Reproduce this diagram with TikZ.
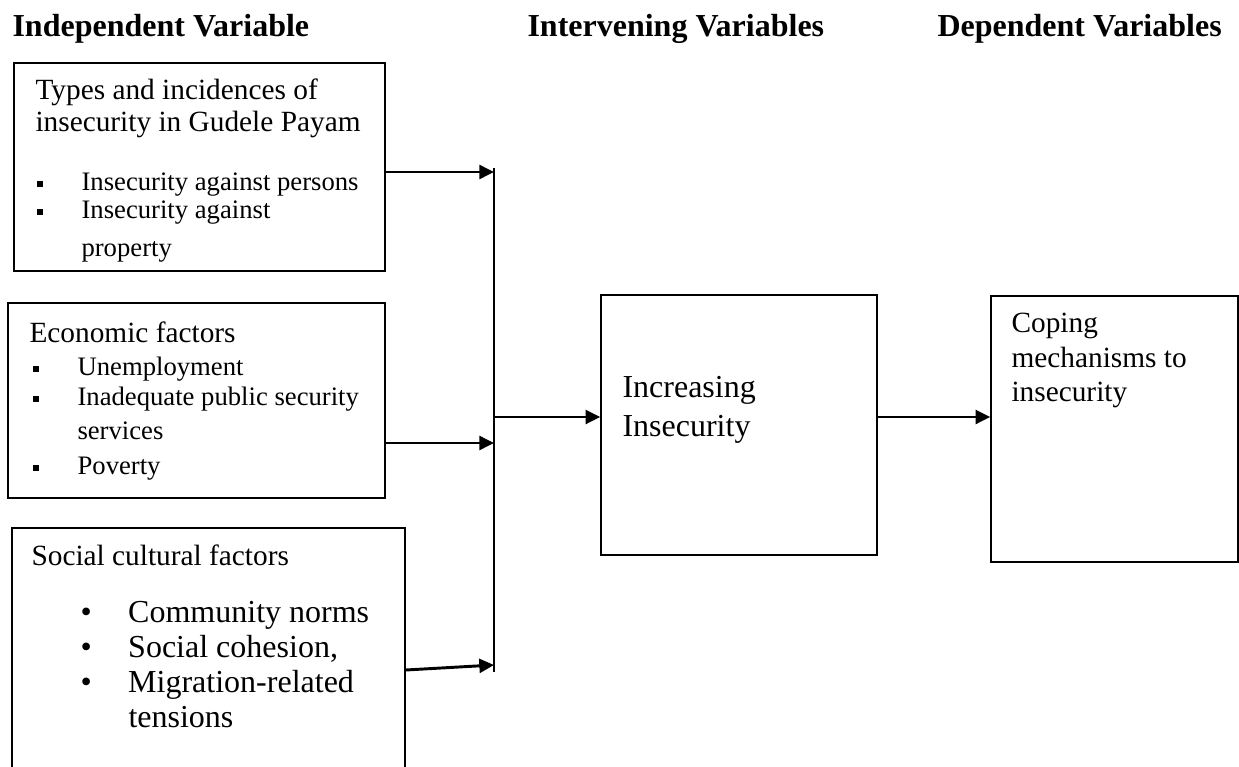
\documentclass[tikz,border=0pt]{standalone}
\usepackage{fontspec}
\setmainfont{Liberation Serif}
\usetikzlibrary{arrows.meta,fit}
\tikzstyle{box}=[draw,rectangle,inner sep=0pt,line width=0.6pt]
\tikzstyle{txt}=[anchor=base west,inner sep=0pt]
\tikzstyle{head}=[txt,font=\fontsize{12}{14}\selectfont\bfseries]
\tikzstyle{body}=[txt,font=\fontsize{11}{13}\selectfont]
\tikzstyle{item}=[txt,font=\fontsize{10}{12}\selectfont]
\tikzstyle{big}=[txt,font=\fontsize{12}{14}\selectfont]
\tikzstyle{arr}=[-{Triangle[length=5.5pt,width=5.2pt]},line width=1.1pt]
\newcommand{\sqbul}{\makebox[16.9pt][l]{\rule[1.1pt]{2.4pt}{2.4pt}}}
\newcommand{\dotbul}{\makebox[17.9pt][l]{\textbullet}}
\newcommand{\newBox}[3]{\node[box,fit={#2 #3}](#1){};}

\begin{document}
\begin{tikzpicture}[x=0.375pt,y=-0.375pt]
  \useasboundingbox (0,0) rectangle (1239,767);
  % column titles
  \node[head] (hind) at (12,36) {Independent Variable};
  \node[head] (hint) at (527,36) {Intervening Variables};
  \node[head] (hdep) at (937,36) {Dependent Variables};
  \newBox{types}{(14,63)}{(385,271)}
  \newBox{econ}{(8,303)}{(385,498)}
  \newBox{social}{(12,528)}{(405,800)}
  \newBox{incr}{(601,295)}{(877,555)}
  \newBox{coping}{(991,296)}{(1238,562)}
  \node[body] (ty1) at (35,99) {Types and incidences of};
  \node[body] (ty2) at (35,131) {insecurity in Gudele Payam};
  \node[item] (ty3) at (36,190) {\sqbul Insecurity against persons};
  \node[item] (ty4) at (36,218) {\sqbul Insecurity against};
  \node[item] (ty5) at (81,256) {property};
  \node[body] (ec1) at (29,342) {Economic factors};
  \node[item] (ec2) at (32,375) {\sqbul Unemployment};
  \node[item] (ec3) at (32,405) {\sqbul Inadequate public security};
  \node[item] (ec4) at (77,439) {services};
  \node[item] (ec5) at (32,474) {\sqbul Poverty};
  \node[body] (so1) at (31,565) {Social cultural factors};
  \node[big] (so2) at (80,622) {\dotbul Community norms};
  \node[big] (so3) at (80,657) {\dotbul Social cohesion,};
  \node[big] (so4) at (80,692) {\dotbul Migration-related};
  \node[big] (so5) at (128,727) {tensions};
  \node[big] (in1) at (622,397) {Increasing};
  \node[big] (in2) at (622,436) {Insecurity};
  \node[body] (co1) at (1011,332) {Coping};
  \node[body] (co2) at (1011,367) {mechanisms to};
  \node[body] (co3) at (1011,401) {insecurity};
  % collecting line
  \coordinate (bustop) at (494,168);
  \coordinate (busbot) at (494,672);
  \coordinate (j1) at (494,172);
  \coordinate (j2) at (494,443);
  \coordinate (j3) at (494,665);
  \coordinate (jout) at (494,417);
  \draw[line width=0.8pt] (bustop) -- (busbot);
  \draw[arr] (types.east |- j1) -- (j1);
  \draw[arr] (econ.east |- j2) -- (j2);
  \draw[arr] (social.east |- 0,670) -- (j3);
  \draw[arr] (jout) -- (incr.west |- jout);
  \draw[arr] (incr.east |- jout) -- (coping.west |- jout);
\end{tikzpicture}
\end{document}
